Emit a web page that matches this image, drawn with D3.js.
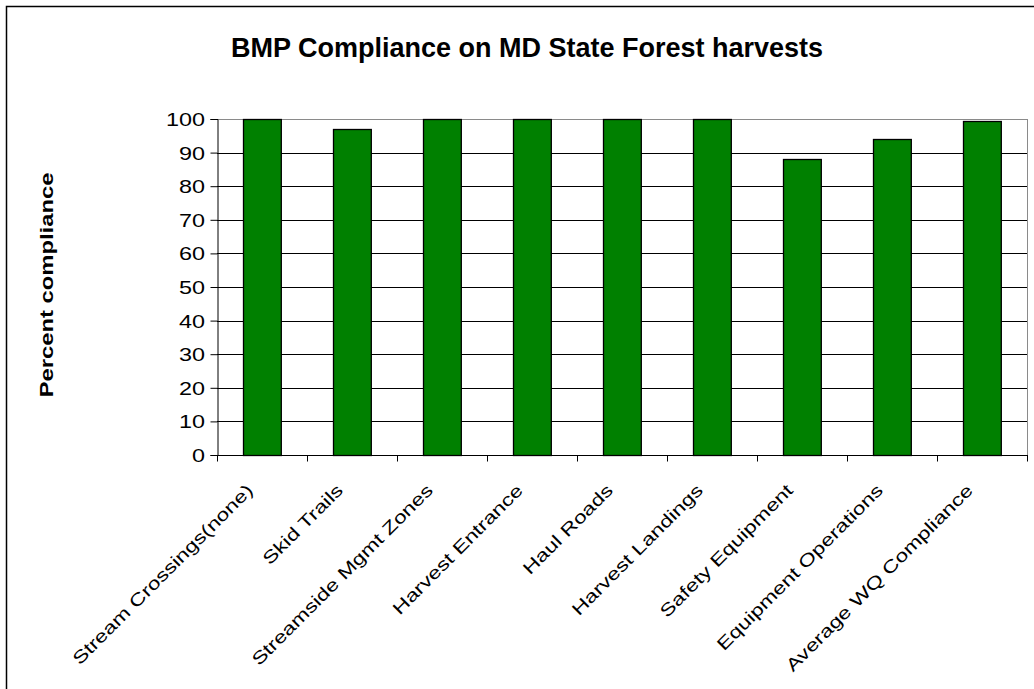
<!DOCTYPE html>
<html>
<head>
<meta charset="utf-8">
<script src="https://cdn.jsdelivr.net/npm/d3@7"></script>
<style>
  html, body { margin: 0; padding: 0; background: #fff; }
  svg { display: block; font-family: Arial, "Liberation Sans", sans-serif; }
</style>
</head>
<body>
<svg id="chart" width="1034" height="689"></svg>
<script>
// BMP compliance categories and percent values
const categories = [
  "Stream Crossings(none)",
  "Skid Trails",
  "Streamside Mgmt Zones",
  "Harvest Entrance",
  "Haul Roads",
  "Harvest Landings",
  "Safety Equipment",
  "Equipment Operations",
  "Average WQ Compliance"
];
const values = [100, 97, 100, 100, 100, 100, 88, 94, 99.5];
const yTicks = [0, 10, 20, 30, 40, 50, 60, 70, 80, 90, 100];

const svg = d3.select("#chart");
const plot = { left: 217, right: 1027, top: 119, bottom: 455 };
const wide = 1.3; // horizontal stretch applied to the axis text

// Outer chart frame (runs off the right and bottom edges)
svg.append("rect")
  .attr("x", 6.5).attr("y", 6.5)
  .attr("width", 1040).attr("height", 700)
  .attr("fill", "#fff").attr("stroke", "#000").attr("stroke-width", 1.5);

const x = d3.scaleBand().domain(categories)
  .range([plot.left, plot.right]).paddingInner(0.58).paddingOuter(0.29);
const xEdge = d3.scaleBand().domain(categories).range([plot.left, plot.right]);
const y = d3.scaleLinear().domain([0, 100]).range([plot.bottom, plot.top]);

// Horizontal gridlines
svg.append("g").selectAll("line").data(yTicks.filter(d => d > 0)).join("line")
  .attr("x1", plot.left).attr("x2", plot.right)
  .attr("y1", d => Math.round(y(d)) + 0.5).attr("y2", d => Math.round(y(d)) + 0.5)
  .attr("stroke", d => d === 100 ? "#8a8a8a" : "#000").attr("stroke-width", 1);

// Plot area right border
svg.append("line")
  .attr("x1", plot.right + 0.5).attr("x2", plot.right + 0.5)
  .attr("y1", plot.top).attr("y2", plot.bottom)
  .attr("stroke", "#8a8a8a");

// Bars
svg.append("g").selectAll("rect").data(values).join("rect")
  .attr("x", (d, i) => Math.round(x(categories[i])) + 0.5)
  .attr("y", d => Math.round(y(d)) + 0.5)
  .attr("width", x.bandwidth())
  .attr("height", d => plot.bottom - Math.round(y(d)))
  .attr("fill", "#008000").attr("stroke", "#000").attr("stroke-width", 1.3);

// Y axis
const yAxis = svg.append("g")
  .attr("transform", `translate(${plot.left + 0.5},0)`)
  .call(d3.axisLeft(y).tickValues(yTicks).tickSize(7).tickFormat(d3.format("d")));
yAxis.select(".domain").attr("stroke", "#000");
yAxis.selectAll(".tick line").attr("stroke", "#000");
yAxis.selectAll(".tick text")
  .attr("x", -12.5 / wide).attr("dy", "0.36em")
  .attr("transform", `scale(${wide},1)`)
  .attr("font-size", 18).attr("fill", "#000")
  .attr("font-family", "Arial, 'Liberation Sans', sans-serif");

// X axis: ticks at category boundaries
const xAxisG = svg.append("g").attr("transform", `translate(0,${plot.bottom + 0.5})`);
xAxisG.append("line").attr("x1", plot.left).attr("x2", plot.right + 1)
  .attr("stroke", "#000");
const boundaries = categories.map(c => xEdge(c)).concat([plot.right]);
xAxisG.selectAll("line.tick").data(boundaries).join("line").attr("class", "tick")
  .attr("x1", d => Math.round(d) + 0.5).attr("x2", d => Math.round(d) + 0.5)
  .attr("y1", 0).attr("y2", 6).attr("stroke", "#000");

// Rotated category labels
xAxisG.selectAll("text").data(categories).join("text")
  .attr("transform", c => `translate(${xEdge(c) + xEdge.bandwidth() / 2 - 8},${36}) rotate(-45) scale(${wide},1)`)
  .attr("text-anchor", "end")
  .attr("font-size", 17.5).attr("fill", "#000")
  .text(c => c);

// Title
svg.append("text")
  .attr("x", 527).attr("y", 57).attr("text-anchor", "middle")
  .attr("font-size", 27).attr("font-weight", "bold").attr("fill", "#000")
  .text("BMP Compliance on MD State Forest harvests");

// Y axis title
svg.append("text")
  .attr("transform", `translate(53,285) rotate(-90) scale(${wide},1)`)
  .attr("text-anchor", "middle")
  .attr("font-size", 18.3).attr("font-weight", "bold").attr("fill", "#000")
  .text("Percent compliance");
</script>
</body>
</html>
